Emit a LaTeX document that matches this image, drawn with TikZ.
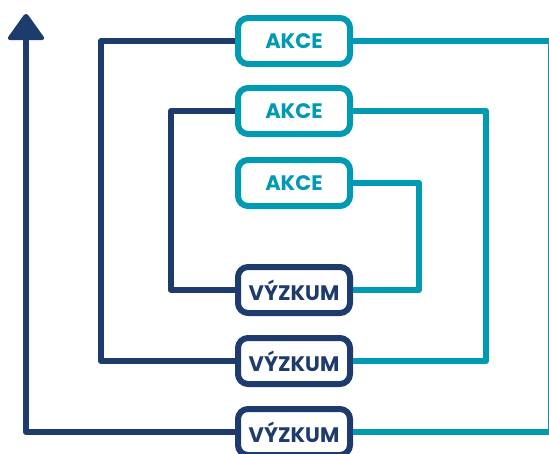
\documentclass[tikz,border=0pt]{standalone}
\usepackage{fontspec}
\newfontfamily\boxfont{Poppins}
\definecolor{navy}{HTML}{1D3B6C}
\definecolor{teal}{HTML}{009BB2}
\begin{document}
\begin{tikzpicture}[x=1pt,y=-1pt,
  line width=6pt, line join=round,
  boxstyle/.style={draw, fill=white, rounded corners=10pt, minimum width=112pt,
    minimum height=46pt, inner sep=0pt, font=\boxfont\bfseries\fontsize{21}{21}\selectfont},
  akce/.style={boxstyle, draw=teal, text=teal},
  vyz/.style={boxstyle, draw=navy, text=navy},
  nv/.style={draw=navy},
  tl/.style={draw=teal}]
\useasboundingbox (0,0) rectangle (549,453);
\clip (0,0) rectangle (549,453);
% nodes
\node[akce] (a1) at (294,41) {AKCE};
\node[akce] (a2) at (294,111) {AKCE};
\node[akce] (a3) at (294,183) {AKCE};
\node[vyz] (v1) at (294,290) {VÝZKUM};
\node[vyz] (v2) at (294,361) {VÝZKUM};
\node[vyz] (v3) at (294,432) {VÝZKUM};
\coordinate (top) at (26,38);
% connectors
\draw[nv] (a1.west) -- (101,41) -- (101,361) -- (v2.west);
\draw[tl] (v2.east) -- (486,361) -- (486,111) -- (a2.east);
\draw[nv] (a2.west) -- (171,111) -- (171,290) -- (v1.west);
\draw[tl] (v1.east) -- (419,290) -- (419,183) -- (a3.east);
\draw[tl] (v3.east) -- (551,432) -- (551,41) -- (a1.east);
\draw[nv] (v3.west) -- (26,432) -- (top);
\fill[navy, rounded corners=4pt] (26,12) -- (46,40) -- (6,40) -- cycle;
\end{tikzpicture}
\end{document}
